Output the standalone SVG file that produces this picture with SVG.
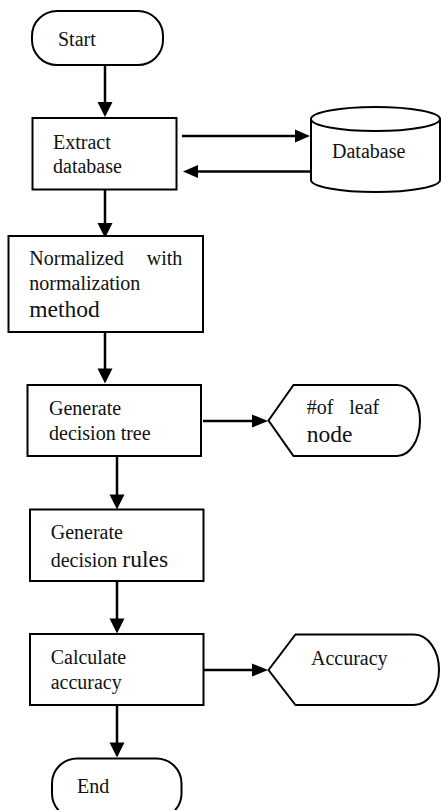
<svg xmlns="http://www.w3.org/2000/svg" width="441" height="810" viewBox="0 0 441 810">
<defs>
<style>
.shape{fill:#fff;stroke:#000;stroke-width:2}
.line{fill:none;stroke:#000;stroke-width:2.5}
.head{fill:#000;stroke:none}
text{font-family:"Liberation Serif","Times New Roman",serif;font-size:20px;fill:#111}
.big{font-size:23.5px}
</style>
</defs>
<rect width="441" height="810" fill="#fff"/>
<g id="connectors">
<line class="line" x1="105" y1="65" x2="105" y2="104"/>
<polygon class="head" points="97.5,102 112.5,102 105,117"/>
<line class="line" x1="182" y1="136" x2="297" y2="136"/>
<polygon class="head" points="295,129.5 295,142.5 310,136"/>
<line class="line" x1="311" y1="171.5" x2="196" y2="171.5"/>
<polygon class="head" points="198,165 198,178 183,171.5"/>
<line class="line" x1="105" y1="190" x2="105" y2="225"/>
<polygon class="head" points="97.5,223 112.5,223 105,238"/>
<line class="line" x1="105" y1="332" x2="105" y2="370"/>
<polygon class="head" points="97.5,368.5 112.5,368.5 105,383.5"/>
<line class="line" x1="203" y1="421" x2="254" y2="421"/>
<polygon class="head" points="252,414.5 252,427.5 268,421"/>
<line class="line" x1="117" y1="456" x2="117" y2="496"/>
<polygon class="head" points="109.5,494.5 124.5,494.5 117,509.5"/>
<line class="line" x1="117" y1="581" x2="117" y2="620"/>
<polygon class="head" points="109.5,618.5 124.5,618.5 117,633.5"/>
<line class="line" x1="203" y1="670" x2="254" y2="670"/>
<polygon class="head" points="252,663.5 252,676.5 268,670"/>
<line class="line" x1="117" y1="705" x2="117" y2="744"/>
<polygon class="head" points="109.5,742.5 124.5,742.5 117,757.5"/>
</g>
<g id="start">
<rect class="shape" x="32" y="11" width="131" height="54" rx="25" ry="25"/>
<text x="58" y="46">Start</text>
</g>
<g id="extract">
<rect class="shape" x="32.5" y="118" width="144" height="71.5"/>
<text x="53" y="149">Extract</text>
<text x="53" y="173">database</text>
</g>
<g id="database">
<path class="shape" d="M311,119 A64.5,12 0 0 1 440,119 V180 A64.5,12 0 0 1 311,180 Z"/>
<path class="shape" style="fill:none" d="M311,119 A64.5,12 0 0 0 440,119"/>
<text x="332" y="158">Database</text>
</g>
<g id="normalize">
<rect class="shape" x="8.5" y="236" width="194.5" height="96"/>
<text y="265"><tspan x="29.3">Normalized</tspan><tspan x="146.7">with</tspan></text>
<text x="29.3" y="290">normalization</text>
<text class="big" x="29.3" y="317">method</text>
</g>
<g id="tree">
<rect class="shape" x="27.5" y="385" width="173.5" height="71"/>
<text x="49" y="415">Generate</text>
<text x="49" y="439.5">decision tree</text>
</g>
<g id="leaf">
<path class="shape" d="M268.5,420.5 L293.5,385 H397 A23,35.5 0 0 1 397,456 H293.5 Z"/>
<text y="413.5"><tspan x="306.7">#of</tspan><tspan x="349.3">leaf</tspan></text>
<text class="big" x="306.7" y="441.5">node</text>
</g>
<g id="rules">
<rect class="shape" x="30" y="509.5" width="173.5" height="71.5"/>
<text x="50.7" y="539">Generate</text>
<text x="50.7" y="566.7">decision <tspan class="big">rules</tspan></text>
</g>
<g id="calc">
<rect class="shape" x="30" y="634" width="173.5" height="71"/>
<text x="50.7" y="664.3">Calculate</text>
<text x="50.7" y="688.5">accuracy</text>
</g>
<g id="accuracy">
<path class="shape" d="M268.5,670 L295.5,634.5 H414 A25,35.25 0 0 1 414,705 H295.5 Z"/>
<text x="311" y="665">Accuracy</text>
</g>
<g id="end">
<rect class="shape" x="52" y="758.5" width="129.5" height="60" rx="25" ry="25"/>
<text x="77" y="793.3">End</text>
</g>
</svg>
